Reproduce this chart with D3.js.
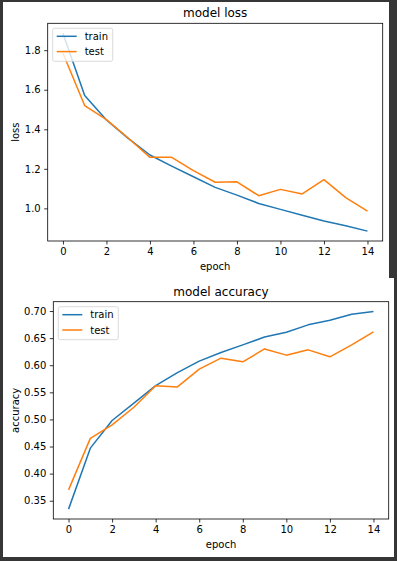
<!DOCTYPE html>
<html>
<head>
<meta charset="utf-8">
<script src="https://cdn.jsdelivr.net/npm/d3@7"></script>
<style>
	body { margin: 0; background: #363636; }
	svg { display: block; }
	text { font-family: "DejaVu Sans", sans-serif; }
</style>
</head>
<body>
<svg id="chart" width="397" height="561"></svg>
<script>
// data
var epochs = [0, 1, 2, 3, 4, 5, 6, 7, 8, 9, 10, 11, 12, 13, 14];
var xTicks = [0, 2, 4, 6, 8, 10, 12, 14];

var lossTrain = [1.886, 1.571, 1.447, 1.354, 1.270, 1.214, 1.160, 1.106, 1.067, 1.025, 0.995, 0.965, 0.936, 0.912, 0.885];
var lossTest = [1.785, 1.520, 1.449, 1.356, 1.258, 1.258, 1.191, 1.132, 1.134, 1.064, 1.096, 1.073, 1.145, 1.054, 0.986];
var lossTicks = [1.0, 1.2, 1.4, 1.6, 1.8];

var accTrain = [0.3345, 0.447, 0.498, 0.530, 0.5625, 0.5865, 0.6075, 0.6235, 0.6376, 0.652, 0.661, 0.6745, 0.683, 0.694, 0.699];
var accTest = [0.370, 0.465, 0.490, 0.5225, 0.562, 0.560, 0.5927, 0.613, 0.6063, 0.630, 0.6186, 0.6284, 0.6155, 0.6377, 0.6617];
var accTicks = [0.35, 0.40, 0.45, 0.50, 0.55, 0.60, 0.65, 0.70];

var seriesNames = ['train', 'test'];
var colors = ['#1f77b4', '#ff7f0e'];

var svg = d3.select('#chart');

// white figure backgrounds
svg.append('rect').attr('x', 3).attr('y', 2).attr('width', 386).attr('height', 277).attr('fill', '#fff');
svg.append('rect').attr('x', 3).attr('y', 278).attr('width', 391).attr('height', 279).attr('fill', '#fff');

function drawPanel(opt) {
	var x = d3.scaleLinear().domain([-0.7, 14.7]).range([opt.left, opt.right]);
	var all = opt.train.concat(opt.test);
	var lo = d3.min(all), hi = d3.max(all), pad = (hi - lo) * 0.05;
	var y = d3.scaleLinear().domain([lo - pad, hi + pad]).range([opt.bottom, opt.top]);

	var g = svg.append('g');

	// axes
	var xa = g.append('g')
		.attr('transform', 'translate(0,' + opt.bottom + ')')
		.call(d3.axisBottom(x).tickValues(xTicks).tickSize(3.5).tickPadding(3.5).tickFormat(d3.format('d')));
	var ya = g.append('g')
		.attr('transform', 'translate(' + opt.left + ',0)')
		.call(d3.axisLeft(y).tickValues(opt.ticks).tickSize(3.5).tickPadding(3.5).tickFormat(d3.format(opt.fmt)));
	[xa, ya].forEach(function(a) {
		a.select('.domain').remove();
		a.selectAll('line').attr('stroke', '#000').attr('stroke-width', 0.8);
		a.selectAll('text').attr('fill', '#000').style('font-size', '10px').style('font-family', '"DejaVu Sans", sans-serif');
	});

	// lines
	var line = d3.line()
		.x(function(d, i) { return x(epochs[i]); })
		.y(function(d) { return y(d); });
	[opt.train, opt.test].forEach(function(s, i) {
		g.append('path')
			.datum(s)
			.attr('d', line)
			.attr('fill', 'none')
			.attr('stroke', colors[i])
			.attr('stroke-width', 1.5)
			.attr('stroke-linejoin', 'round');
	});

	// frame
	g.append('rect')
		.attr('x', opt.left).attr('y', opt.top)
		.attr('width', opt.right - opt.left).attr('height', opt.bottom - opt.top)
		.attr('fill', 'none').attr('stroke', '#000').attr('stroke-width', 0.8);

	// title + labels
	g.append('text')
		.attr('x', (opt.left + opt.right) / 2).attr('y', opt.top - 6)
		.attr('text-anchor', 'middle').style('font-size', '12px')
		.text(opt.title);
	g.append('text')
		.attr('x', (opt.left + opt.right) / 2).attr('y', opt.bottom + 28.5)
		.attr('text-anchor', 'middle').style('font-size', '10px')
		.text('epoch');
	g.append('text')
		.attr('transform', 'translate(18.5,' + (opt.top + opt.bottom) / 2 + ') rotate(-90)')
		.attr('text-anchor', 'middle').style('font-size', '10px')
		.text(opt.ylabel);

	// legend
	var lx = opt.left + 5, ly = opt.top + 5;
	var leg = g.append('g').attr('transform', 'translate(' + lx + ',' + ly + ')');
	leg.append('rect')
		.attr('width', 60).attr('height', 33).attr('rx', 2)
		.attr('fill', '#fff').attr('fill-opacity', 0.8)
		.attr('stroke', '#d0d0d0').attr('stroke-width', 0.8);
	seriesNames.forEach(function(name, i) {
		var ry = 8 + i * 15.3;
		leg.append('line')
			.attr('x1', 4).attr('x2', 24).attr('y1', ry).attr('y2', ry)
			.attr('stroke', colors[i]).attr('stroke-width', 1.5);
		leg.append('text')
			.attr('x', 32).attr('y', ry + 3.6)
			.style('font-size', '10px')
			.text(name);
	});
}

drawPanel({
	left: 47.7, right: 382.7, top: 23.3, bottom: 241,
	train: lossTrain, test: lossTest, ticks: lossTicks, fmt: '.1f',
	title: 'model loss', ylabel: 'loss'
});
drawPanel({
	left: 53.3, right: 388.7, top: 301.7, bottom: 519,
	train: accTrain, test: accTest, ticks: accTicks, fmt: '.2f',
	title: 'model accuracy', ylabel: 'accuracy'
});
</script>
</body>
</html>
